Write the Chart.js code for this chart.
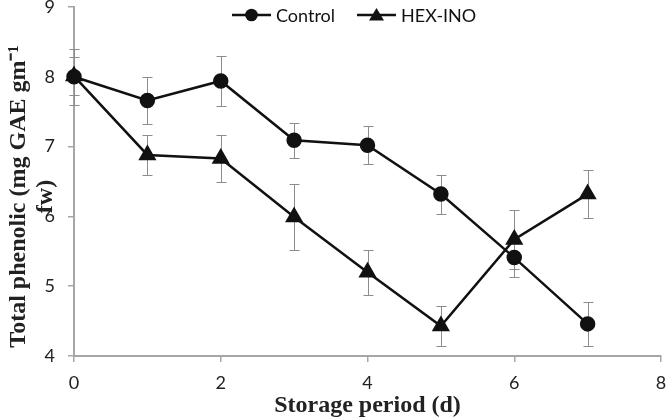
<!DOCTYPE html>
<html><head><meta charset="utf-8">
<script src="https://cdn.jsdelivr.net/npm/chart.js@4/dist/chart.umd.min.js"></script>
<style>html,body{margin:0;padding:0;background:#fff}#wrap{width:666px;height:420px}</style>
</head><body><div id="wrap"><canvas id="c" width="666" height="420"></canvas></div>
<script>
const days = [0,1,2,3,4,5,6,7];
const controlValues = [8.00,7.66,7.94,7.09,7.02,6.32,5.41,4.46];
const controlErrors = [0.40,0.33,0.36,0.25,0.27,0.28,0.28,0.31];
const hexInoValues = [8.01,6.88,6.83,5.99,5.20,4.43,5.67,6.32];
const hexInoErrors = [0.27,0.28,0.33,0.47,0.32,0.29,0.42,0.35];
const seriesNames = ['Control','HEX-INO'];
const xTitle = 'Storage period (d)';
const yTitle = ['Total phenolic (mg GAE gm\u207B\u00B9     ', 'fw)     '];

const LINE = '#111';
const AXIS = '#a6a6a6';
const ERR = '#8c8c8c';
const TICKFONT = 'Lato';

const errorBars = {
  id:'errorBars',
  beforeDatasetsDraw(chart){
    const ctx = chart.ctx, xs = chart.scales.x, ys = chart.scales.y;
    const sets = [[controlValues,controlErrors],[hexInoValues,hexInoErrors]];
    ctx.save();
    ctx.strokeStyle = ERR; ctx.lineWidth = 1;
    sets.forEach(([vals,errs])=>{
      vals.forEach((v,i)=>{
        const x = Math.round(xs.getPixelForValue(days[i]))+0.5;
        const yt = Math.round(ys.getPixelForValue(v+errs[i]))+0.5;
        const yb = Math.round(ys.getPixelForValue(v-errs[i]))+0.5;
        ctx.beginPath();
        ctx.moveTo(x,yt); ctx.lineTo(x,yb);
        ctx.moveTo(x-5,yt); ctx.lineTo(x+5,yt);
        ctx.moveTo(x-5,yb); ctx.lineTo(x+5,yb);
        ctx.stroke();
      });
    });
    ctx.restore();
  }
};

const customLegend = {
  id:'customLegend',
  afterDraw(chart){
    const ctx = chart.ctx;
    const items = [
      {name:seriesNames[0], x0:232, x1:271, style:'circle', tx:276},
      {name:seriesNames[1], x0:357, x1:396, style:'triangle', tx:401}
    ];
    const y = 15;
    ctx.save();
    items.forEach(it=>{
      ctx.strokeStyle = LINE; ctx.lineWidth = 2.5;
      ctx.beginPath(); ctx.moveTo(it.x0,y); ctx.lineTo(it.x1,y); ctx.stroke();
      ctx.fillStyle = LINE;
      const cx = (it.x0+it.x1)/2;
      ctx.beginPath();
      if(it.style==='circle'){ ctx.arc(cx,y,6.3,0,Math.PI*2); }
      else { ctx.moveTo(cx,y-7); ctx.lineTo(cx+7.5,y+5.5); ctx.lineTo(cx-7.5,y+5.5); ctx.closePath(); }
      ctx.fill();
      ctx.fillStyle = '#111';
      ctx.font = '18px ' + TICKFONT;
      ctx.textBaseline = 'middle'; ctx.textAlign = 'left';
      ctx.fillText(it.name, it.tx, y+1);
    });
    ctx.restore();
  }
};

new Chart(document.getElementById('c'), {
  type:'line',
  data:{
    datasets:[
      {label:seriesNames[0], data:days.map((d,i)=>({x:d,y:controlValues[i]})),
       borderColor:LINE, backgroundColor:LINE, borderWidth:2.5, pointStyle:'circle',
       pointRadius:6.5, pointHoverRadius:6.5, tension:0, clip:false},
      {label:seriesNames[1], data:days.map((d,i)=>({x:d,y:hexInoValues[i]})),
       borderColor:LINE, backgroundColor:LINE, borderWidth:2.5, pointStyle:'triangle',
       pointRadius:8, pointHoverRadius:8, tension:0, clip:false}
    ]
  },
  options:{
    responsive:false, animation:false, devicePixelRatio:1,
    layout:{autoPadding:false, padding:{top:7,right:5,left:0,bottom:0}},
    plugins:{ tooltip:{enabled:false}, legend:{display:false} },
    scales:{
      x:{type:'linear', min:0, max:8,
        ticks:{stepSize:2, color:'#222', font:{family:TICKFONT, size:18}, padding:10},
        grid:{display:true, drawOnChartArea:false, drawTicks:true, tickLength:6, color:AXIS, lineWidth:1.5},
        border:{display:true, color:AXIS, width:2},
        title:{display:true, text:xTitle, color:'#222', font:{family:'Liberation Serif', size:24, weight:'bold'}, padding:{top:0,bottom:0}},
        afterFit(s){ s.height = 64; s.paddingRight = 0; s.paddingLeft = 0; }
      },
      y:{min:4, max:9,
        ticks:{stepSize:1, color:'#222', font:{family:TICKFONT, size:18}, padding:13},
        grid:{display:true, drawOnChartArea:false, drawTicks:true, tickLength:6, color:AXIS, lineWidth:1.5},
        border:{display:true, color:AXIS, width:2},
        title:{display:true, text:yTitle, color:'#222', font:{family:'Liberation Serif', size:24, weight:'bold', lineHeight:1.1}, padding:{top:6,bottom:0}},
        afterFit(s){ s.width = 74; s.paddingTop = 0; s.paddingBottom = 0; }
      }
    }
  },
  plugins:[errorBars, customLegend]
});
</script></body></html>
